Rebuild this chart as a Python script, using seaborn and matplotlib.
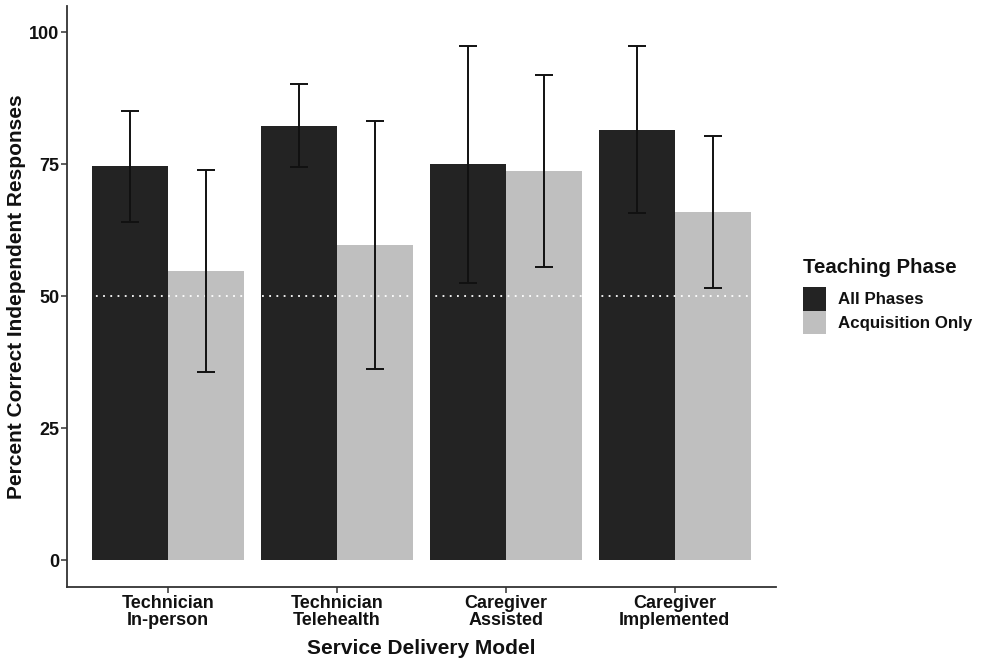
import matplotlib
matplotlib.use("Agg")

import matplotlib.pyplot as plt
import pandas as pd
import seaborn as sns
from matplotlib.patches import Patch

# values
models = ["Technician\nIn-person", "Technician\nTelehealth",
          "Caregiver\nAssisted", "Caregiver\nImplemented"]
phases = ["All Phases", "Acquisition Only"]
all_mean = [74.6, 82.3, 75.0, 81.5]
all_err = [10.5, 7.9, 22.4, 15.8]
acq_mean = [54.8, 59.7, 73.7, 66.0]
acq_err = [19.1, 23.4, 18.1, 14.4]

colors = {"All Phases": "#232323", "Acquisition Only": "#bfbfbf"}

df = pd.DataFrame({
    "model": models * 2,
    "phase": [phases[0]] * 4 + [phases[1]] * 4,
    "pct": all_mean + acq_mean,
    "err": all_err + acq_err,
})

sns.set_theme(style="white")
plt.rcParams["font.family"] = ["Liberation Sans", "DejaVu Sans"]
plt.rcParams["font.weight"] = "bold"

fig = plt.figure(figsize=(9.81, 6.62), dpi=100)
ax = fig.add_axes([0.0683, 0.1135, 0.7227, 0.878])

sns.barplot(data=df, x="model", y="pct", hue="phase", order=models,
            hue_order=phases, palette=colors, errorbar=None, width=0.9,
            gap=0, saturation=1, edgecolor="none", legend=False, ax=ax,
            zorder=0.4)

# error bars at the centre of each bar drawn by seaborn
for patch, (_, row) in zip(ax.patches, df.iterrows()):
    xc = patch.get_x() + patch.get_width() / 2
    ax.errorbar(xc, row["pct"], yerr=row["err"], fmt="none", ecolor="#111111",
                elinewidth=1.4, capsize=6.2, capthick=1.4, zorder=3)

# chance line
ax.axhline(50, color="white", lw=1.3, ls=(0, (1, 3)), zorder=1)

ax.set_xlim(-0.6, 3.6)
ax.set_ylim(-5, 105)
ax.set_yticks([0, 25, 50, 75, 100])
ax.tick_params(axis="both", length=4, width=1.1, color="#333333",
               labelsize=13, labelcolor="#111111", pad=1.5)
ax.tick_params(axis="both", which="both", bottom=True, left=True)
for lab in ax.get_xticklabels():
    lab.set_linespacing(1.05)
    lab.set_fontweight("bold")
for lab in ax.get_yticklabels():
    lab.set_fontweight("bold")

for side in ["top", "right"]:
    ax.spines[side].set_visible(False)
for side in ["left", "bottom"]:
    ax.spines[side].set_color("#333333")
    ax.spines[side].set_linewidth(1.3)

ax.set_xlabel("Service Delivery Model", fontsize=15, fontweight="bold",
              color="#111111", labelpad=7)
ax.set_ylabel("Percent Correct Independent Responses", fontsize=15,
              fontweight="bold", color="#111111", labelpad=2.5)

handles = [Patch(facecolor=colors[p], edgecolor="none", label=p) for p in phases]
leg = ax.legend(handles=handles, title="Teaching Phase", loc="center left",
                bbox_to_anchor=(1.0, 0.5), frameon=False, fontsize=12.2,
                title_fontsize=14.7, handlelength=1.36, handleheight=1.78,
                handletextpad=0.72, labelspacing=0.0, alignment="left",
                borderaxespad=1.2)
leg._legend_box.sep = 7
leg.get_title().set_fontweight("bold")
leg.get_title().set_color("#111111")
for t in leg.get_texts():
    t.set_fontweight("bold")
    t.set_color("#111111")

fig.savefig("out.png", dpi=100)
